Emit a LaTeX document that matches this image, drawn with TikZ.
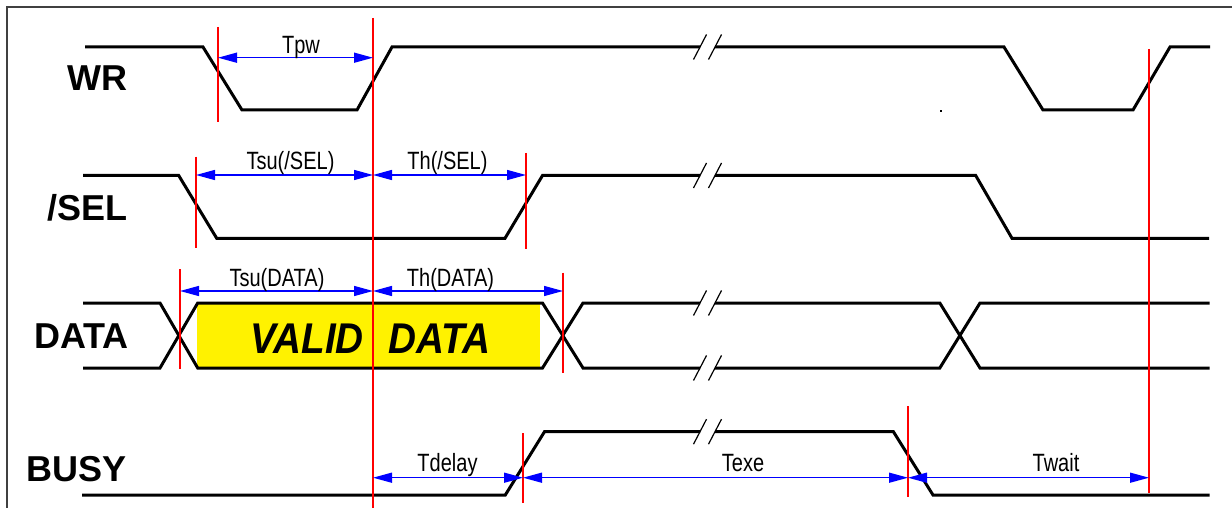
\documentclass[tikz,border=0pt]{standalone}
\usepackage{fontspec}
\usepackage{tikz}
\usetikzlibrary{arrows.meta}
\setmainfont{Liberation Sans}
\newfontfamily\lblfont[FakeStretch=0.8]{Liberation Sans}
\newfontfamily\validfont[FakeStretch=0.9]{Liberation Sans}
\newcommand{\sigbreak}[1]{%
  \draw[slash] (693.5,#1+12.5) -- (706.5,#1-12.5);
  \draw[slash] (708.5,#1+12.5) -- (721.5,#1-12.5);}

\begin{document}
\begin{tikzpicture}[x=1pt,y=-1pt,
    sig/.style={line width=3pt,line join=miter},
    slash/.style={line width=1.2pt},
    tmark/.style={draw=red,line width=1.6pt},
    dim/.style={draw=blue,line width=1.4pt,
      {Triangle[length=19pt,width=10pt]}-{Triangle[length=19pt,width=10pt]}},
    signame/.style={anchor=base east,inner sep=0pt,font=\bfseries\fontsize{36}{40}\selectfont},
    tlabel/.style={anchor=base,inner sep=0pt,font=\lblfont\fontsize{25}{30}\selectfont}]
    \useasboundingbox (0,0) rectangle (1232,508);
    \draw[line width=1.5pt,black!75] (7,508) -- (7,7) -- (1232,7);

    % signal names
    \node[signame] (wr) at (128,91) {WR};
    \node[signame] (sel) at (128,220.7) {/SEL};
    \node[signame] (data) at (129,348) {DATA};
    \node[signame] (busy) at (127,481.7) {BUSY};

    % valid data window
    \fill[yellow] (197,304) rectangle (540,367);
    \node[anchor=base,inner sep=0pt,font=\validfont\bfseries\itshape\fontsize{43}{48}\selectfont]
      (valid) at (370.5,353) {VALID\hspace{14pt} DATA};

    % waveforms
    \draw[sig] (85,47) -- (203,47) -- (242,110) -- (357,110) -- (392,47) -- (700,47);
    \draw[sig] (715,47) -- (1004,47) -- (1043,110) -- (1133,110) -- (1170,47) -- (1210,47);
    \fill (940,110) rectangle (942,112);

    \draw[sig] (83,175.5) -- (178.7,175.5) -- (216.7,238.3) -- (505,238.3) -- (542.5,175.5) -- (700,175.5);
    \draw[sig] (715,175.5) -- (975.7,175.5) -- (1012,238.3) -- (1209,238.3);

    \draw[sig] (83,303) -- (160,303) -- (197.7,368) -- (542.5,368) -- (583,303) -- (700,303);
    \draw[sig] (83,368) -- (160,368) -- (197.7,303) -- (542.5,303) -- (583,368) -- (700,368);
    \draw[sig] (715,303) -- (939.8,303) -- (980,368) -- (1209.5,368);
    \draw[sig] (715,368) -- (939.8,368) -- (980,303) -- (1209.5,303);

    \draw[sig] (82,495) -- (505.3,495) -- (544.5,431.7) -- (700,431.7);
    \draw[sig] (715,431.7) -- (893.4,431.7) -- (933,495) -- (1209.5,495);

    \sigbreak{47}
    \sigbreak{175.5}
    \sigbreak{303}
    \sigbreak{368}
    \sigbreak{431.7}

    % timing marks
    \draw[tmark] (218,27) -- (218,122);
    \draw[tmark] (373,18) -- (373,508);
    \draw[tmark] (196,156.7) -- (196,248.3);
    \draw[tmark] (526,153) -- (526,249);
    \draw[tmark] (180,269) -- (180,369);
    \draw[tmark] (563,272.7) -- (563,372.7);
    \draw[tmark] (523,433) -- (523,502.7);
    \draw[tmark] (908,406) -- (908,497.3);
    \draw[tmark] (1149,49) -- (1149,493);

    % dimension arrows
    \coordinate (pw-l) at (218,57.7);
    \coordinate (pw-r) at (373,57.7);
    \coordinate (sel-l) at (196,175);
    \coordinate (sel-m) at (373,175);
    \coordinate (sel-r) at (526,175);
    \coordinate (dat-l) at (180,291);
    \coordinate (dat-m) at (373,291);
    \coordinate (dat-r) at (563,291);
    \coordinate (bsy-a) at (373,477.7);
    \coordinate (bsy-b) at (523,477.7);
    \coordinate (bsy-c) at (908,477.7);
    \coordinate (bsy-d) at (1149,477.7);

    \draw[dim] (pw-l) -- (pw-r);
    \draw[dim] (sel-l) -- (sel-m);
    \draw[dim] (sel-m) -- (sel-r);
    \draw[dim] (dat-l) -- (dat-m);
    \draw[dim] (dat-m) -- (dat-r);
    \draw[dim] (bsy-a) -- (bsy-b);
    \draw[dim] (bsy-b) -- (bsy-c);
    \draw[dim] (bsy-c) -- (bsy-d);

    \node[tlabel] (tpw) at (301,54) {Tpw};
    \node[tlabel] (tsusel) at (290.5,169) {Tsu(/SEL)};
    \node[tlabel] (thsel) at (447.5,169) {Th(/SEL)};
    \node[tlabel] (tsudat) at (277,286) {Tsu(DATA)};
    \node[tlabel] (thdat) at (450.5,286) {Th(DATA)};
    \node[tlabel] (tdelay) at (447.5,471) {Tdelay};
    \node[tlabel] (texe) at (743,471) {Texe};
    \node[tlabel] (twait) at (1056,471) {Twait};
\end{tikzpicture}
\end{document}
